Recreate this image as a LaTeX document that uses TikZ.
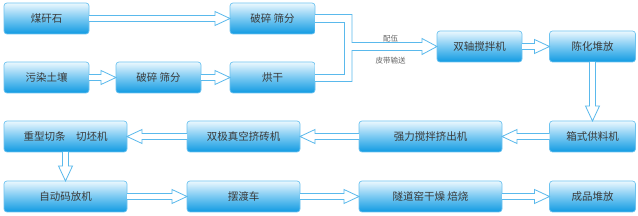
\documentclass[tikz,border=0pt]{standalone}
\usepackage{fontspec}
\setmainfont{Noto Sans CJK SC}
\usetikzlibrary{calc}
\definecolor{boxtop}{RGB}{236,248,254}
\definecolor{boxmid}{RGB}{120,200,242}
\definecolor{boxbot}{RGB}{16,154,226}
\definecolor{boxline}{RGB}{110,195,240}
\definecolor{arrline}{RGB}{90,185,236}
\definecolor{txt}{RGB}{58,58,58}
\definecolor{lbl}{RGB}{100,100,100}
\tikzset{
  procbox/.style={draw=boxline, line width=0.7pt, rounded corners=3pt,
    top color=boxtop, bottom color=boxbot, middle color=boxmid,
    minimum height=31pt, inner sep=0pt, outer sep=0pt,
    text=txt, font=\fontsize{10.5}{12}\selectfont},
  fatarrow/.style={draw=arrline, line width=0.8pt, fill=white, line join=miter},
  smalllbl/.style={text=lbl, font=\fontsize{7.5}{9}\selectfont, inner sep=0pt}
}
\newcommand\ArrR[2]{\draw[fatarrow] ($(#1.east)+(0,-3)$) -- ($(#2.west)+(-15,-3)$) -- ($(#2.west)+(-15,-7)$) -- (#2.west) -- ($(#2.west)+(-15,7)$) -- ($(#2.west)+(-15,3)$) -- ($(#1.east)+(0,3)$);}
\newcommand\ArrL[2]{\draw[fatarrow] ($(#1.west)+(0,-3)$) -- ($(#2.east)+(15,-3)$) -- ($(#2.east)+(15,-7)$) -- (#2.east) -- ($(#2.east)+(15,7)$) -- ($(#2.east)+(15,3)$) -- ($(#1.west)+(0,3)$);}
\newcommand\ArrD[2]{\draw[fatarrow] ($(#1.south)+(-3,0)$) -- ($(#2.north)+(-3,-15)$) -- ($(#2.north)+(-7,-15)$) -- (#2.north) -- ($(#2.north)+(7,-15)$) -- ($(#2.north)+(3,-15)$) -- ($(#1.south)+(3,0)$);}
\begin{document}
\begin{tikzpicture}[x=1pt,y=-1pt]
\useasboundingbox[fill=white] (0,0) rectangle (638,216);
% row 1 / 2
\node[procbox, minimum width=85pt] (coal)   at (46.5,18.5)  {煤矸石};
\node[procbox, minimum width=85pt] (crushA) at (272.5,18.5) {破碎 筛分};
\node[procbox, minimum width=85pt] (soil)   at (46.5,77.5)  {污染土壤};
\node[procbox, minimum width=85pt] (crushB) at (158.5,77.5) {破碎 筛分};
\node[procbox, minimum width=85pt] (dry)    at (272.5,77.5) {烘干};
\node[procbox, minimum width=85pt] (mixer)  at (479.5,46.5) {双轴搅拌机};
\node[procbox, minimum width=86pt] (age)    at (592.5,46.5) {陈化堆放};
% row 3
\node[procbox, minimum width=86pt]  (feeder)   at (592.5,136.5) {箱式供料机};
\node[procbox, minimum width=143pt] (extruder) at (430.5,136.5) {强力搅拌挤出机};
\node[procbox, minimum width=113pt] (vacuum)   at (243.5,136.5) {双极真空挤砖机};
\node[procbox, minimum width=123pt] (cutter)   at (65.5,136.5)  {重型切条\hspace{1em}切坯机};
% row 4
\node[procbox, minimum width=123pt] (stacker) at (65.5,196.5)  {自动码放机};
\node[procbox, minimum width=113pt] (ferry)   at (243.5,196.5) {摆渡车};
\node[procbox, minimum width=143pt] (kiln)    at (430.5,196.5) {隧道窑干燥 焙烧};
\node[procbox, minimum width=86pt]  (product) at (592.5,196.5) {成品堆放};
% arrows
\ArrR{coal}{crushA}
\ArrR{soil}{crushB}
\ArrR{crushB}{dry}
\ArrR{mixer}{age}
\ArrD{age}{feeder}
\ArrL{feeder}{extruder}
\ArrL{extruder}{vacuum}
\ArrL{vacuum}{cutter}
\ArrD{cutter}{stacker}
\ArrR{stacker}{ferry}
\ArrR{ferry}{kiln}
\ArrR{kiln}{product}
% merging connector
\coordinate (outx) at (352,0);
\coordinate (inx) at (344,0);
\draw[fatarrow] ($(crushA.east)+(0,-4)$) -- ($(outx|-crushA.east)+(0,-4)$) -- ($(outx|-mixer.west)+(0,-4)$) -- ($(mixer.west)+(-15,-4)$) -- ($(mixer.west)+(-15,-8)$) -- (mixer.west) -- ($(mixer.west)+(-15,8)$) -- ($(mixer.west)+(-15,4)$) -- ($(outx|-mixer.west)+(0,4)$) -- ($(outx|-dry.east)+(0,4)$) -- ($(dry.east)+(0,4)$);
\draw[fatarrow] ($(crushA.east)+(0,3.5)$) -- ($(inx|-crushA.east)+(0,3.5)$) -- ($(inx|-dry.east)+(0,-3.5)$) -- ($(dry.east)+(0,-3.5)$);
\node[smalllbl] (lblA) at (390.5,39) {配伍};
\node[smalllbl] (lblB) at (390.5,61) {皮带输送};
\end{tikzpicture}
\end{document}
